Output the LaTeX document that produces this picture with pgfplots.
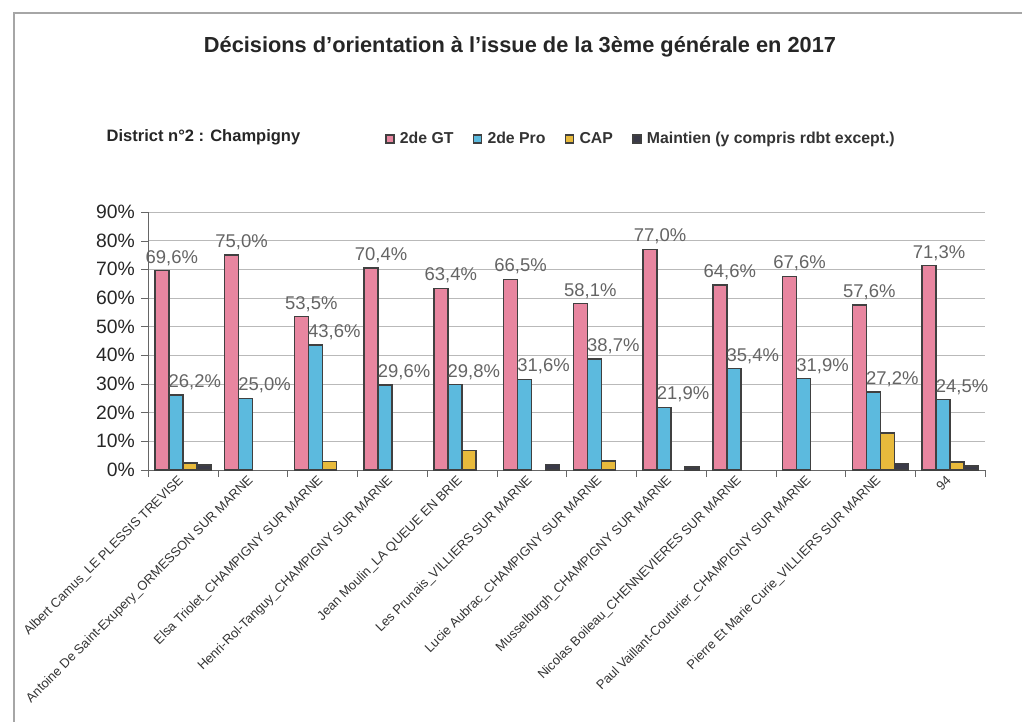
\documentclass[border=0pt]{standalone}
\usepackage{fontspec}
\setmainfont{Liberation Sans}
\usepackage{pgfplots}
\pgfplotsset{compat=1.18}

\definecolor{gtpink}{RGB}{232,134,160}
\definecolor{problue}{RGB}{92,186,222}
\definecolor{capyel}{RGB}{232,186,60}
\definecolor{maintdk}{RGB}{58,58,72}
\definecolor{lbl}{RGB}{100,100,100}

\begin{document}
\begin{tikzpicture}[x=1cm,y=1cm]
% 1 px of the reference = 0.02 cm, origin at the axis corner
\path[use as bounding box] (-2.96,-5.04) rectangle (17.48,9.4);
\draw[gray!70, line width=0.8pt] (-2.68,-5.04) -- (-2.68,9.14) -- (17.48,9.14);

\node[font=\bfseries\fontsize{12.4}{14}\selectfont, text=black!85] at (7.44,8.46)
  {Décisions d'orientation à l'issue de la 3ème générale en 2017};
\node[font=\bfseries\fontsize{9.4}{11}\selectfont, text=black!85, anchor=west] at (-0.95,6.66)
  {District n°2 : Champigny};

\begin{axis}[
    at={(0,0)}, anchor=south west,
    scale only axis,
    width=16.74cm, height=5.16cm,
    ybar=0pt, bar width=0.28cm,
    xmin=-0.5, xmax=11.5,
    ymin=0, ymax=90,
    ytick={0,10,...,90},
    yticklabel={\pgfmathprintnumber{\tick}\%},
    /pgf/number format/assume math mode=true,
    yticklabel style={font=\fontsize{11}{12}\selectfont, text=black!85},
    xtick=data,
    xticklabels={
      Albert Camus\_LE PLESSIS TREVISE,
      Antoine De Saint-Exupery\_ORMESSON SUR MARNE,
      Elsa Triolet\_CHAMPIGNY SUR MARNE,
      Henri-Rol-Tanguy\_CHAMPIGNY SUR MARNE,
      Jean Moulin\_LA QUEUE EN BRIE,
      Les Prunais\_VILLIERS SUR MARNE,
      Lucie Aubrac\_CHAMPIGNY SUR MARNE,
      Musselburgh\_CHAMPIGNY SUR MARNE,
      Nicolas Boileau\_CHENNEVIERES SUR MARNE,
      Paul Vaillant-Couturier\_CHAMPIGNY SUR MARNE,
      Pierre Et Marie Curie\_VILLIERS SUR MARNE,
      94},
    xticklabel style={rotate=45, anchor=east, font=\fontsize{7.4}{8}\selectfont, text=black!80, inner sep=1pt},
    major x tick style={draw=none},
    minor xtick={-0.5,0.5,...,11.5},
    minor tick length=4pt,
    major tick length=4pt,
    tick align=outside,
    tick style={gray!80!black},
    axis x line*=bottom, axis y line*=left,
    axis line style={-, gray!80!black},
    ymajorgrids,
    grid style={gray!55},
    legend style={at={(0.283,1.283)}, anchor=west, draw=none, fill=none,
      legend columns=-1, font=\bfseries\fontsize{9}{10}\selectfont,
      text=black!80, inner sep=0pt,
      /tikz/every odd column/.append style={column sep=1pt},
      /tikz/every even column/.append style={column sep=9pt}},
    legend image code/.code={\draw[#1, draw=black!75] (0cm,-0.08cm) rectangle (0.16cm,0.08cm);},
    every axis plot/.append style={draw=black!75, line width=0.8pt},
    nodes near coords style={font=\fontsize{10.5}{12}\selectfont, text=lbl, anchor=south, inner sep=2.5pt},
]
\addplot[fill=gtpink, nodes near coords={\pgfmathprintnumber[fixed,fixed zerofill,precision=1,use comma]{\pgfplotspointmeta}\%},
    every node near coord/.append style={xshift=0.2cm}]
  coordinates {(0,69.6) (1,75.0) (2,53.5) (3,70.4) (4,63.4) (5,66.5) (6,58.1) (7,77.0) (8,64.6) (9,67.6) (10,57.6) (11,71.3)};
\addplot[fill=problue, nodes near coords={\pgfmathprintnumber[fixed,fixed zerofill,precision=1,use comma]{\pgfplotspointmeta}\%},
    every node near coord/.append style={xshift=0.38cm}]
  coordinates {(0,26.2) (1,25.0) (2,43.6) (3,29.6) (4,29.8) (5,31.6) (6,38.7) (7,21.9) (8,35.4) (9,31.9) (10,27.2) (11,24.5)};
\addplot[fill=capyel]
  coordinates {(0,2.5) (2,2.9) (4,6.8) (6,3.2) (10,12.9) (11,2.8)};
\addplot[fill=maintdk]
  coordinates {(0,1.7) (5,1.9) (7,1.1) (10,2.3) (11,1.4)};
\legend{2de GT, 2de Pro, CAP, Maintien (y compris rdbt except.)}
\end{axis}
\end{tikzpicture}
\end{document}
